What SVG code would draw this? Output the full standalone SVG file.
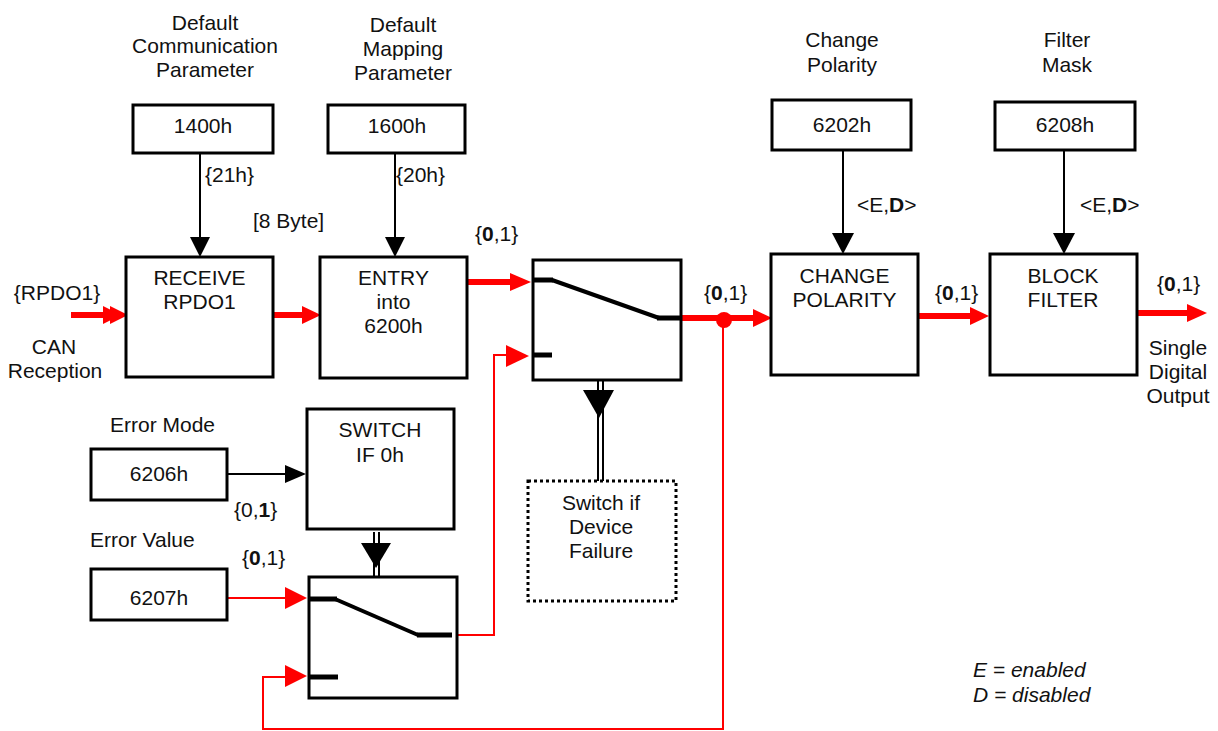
<svg xmlns="http://www.w3.org/2000/svg" width="1218" height="731" viewBox="0 0 1218 731">
<style>
text{font-family:"Liberation Sans",Arial,sans-serif;font-size:21px;fill:#111}
.c{text-anchor:middle}
.b{font-weight:bold}
.i{font-style:italic}
.box{fill:#fff;stroke:#000;stroke-width:3}
.dot{fill:#fff;stroke:#000;stroke-width:3;stroke-dasharray:3 3}
.bl{stroke:#000;stroke-width:2;fill:none}
.rt{stroke:#f00;stroke-width:6;fill:none}
.rn{stroke:#f00;stroke-width:2;fill:none}
.ct{stroke:#000;stroke-width:5;fill:none}
.dg{stroke:#000;stroke-width:4;fill:none}
.rh{fill:#f00}
.bh{fill:#000}
</style>
<rect width="1218" height="731" fill="#fff"/>

<g id="connectors">
  <!-- black arrows from parameter boxes -->
  <line class="bl" x1="200" y1="153" x2="200" y2="240"/>
  <polygon class="bh" points="190,237 210,237 200,257"/>
  <line class="bl" x1="395" y1="153" x2="395" y2="240"/>
  <polygon class="bh" points="385,237 405,237 395,257"/>
  <line class="bl" x1="843" y1="150" x2="843" y2="236"/>
  <polygon class="bh" points="832,233 854,233 843,254"/>
  <line class="bl" x1="1064" y1="150" x2="1064" y2="236"/>
  <polygon class="bh" points="1053,233 1075,233 1064,254"/>
  <line class="bl" x1="227" y1="474" x2="288" y2="474"/>
  <polygon class="bh" points="285,465 306,474 285,483"/>

  <!-- red thick flow -->
  <line class="rt" x1="71" y1="315" x2="106" y2="315"/>
  <polygon class="rh" points="103,306 121,315 103,324"/>
  <polygon class="rh" points="110,306 128,315 110,324"/>
  <line class="rt" x1="273" y1="315" x2="305" y2="315"/>
  <polygon class="rh" points="302,306 321,315 302,324"/>
  <line class="rt" x1="467" y1="282" x2="513" y2="282"/>
  <polygon class="rh" points="510,273 531,282 510,291"/>
  <line class="rt" x1="681" y1="318" x2="756" y2="318"/>
  <polygon class="rh" points="753,309 772,318 753,327"/>
  <circle cx="724" cy="320" r="8" fill="#f00"/>
  <line class="rt" x1="918" y1="316" x2="973" y2="316"/>
  <polygon class="rh" points="970,307 989,316 970,325"/>
  <line class="rt" x1="1137" y1="313" x2="1190" y2="313"/>
  <polygon class="rh" points="1187,304 1207,313 1187,322"/>

  <!-- red thin lines -->
  <polyline class="rn" points="227,598 288,598"/>
  <polygon class="rh" points="285,587 307,598 285,609"/>
  <polyline class="rn" points="723,320 723,729 263,729 263,677 288,677"/>
  <polygon class="rh" points="285,665 307,676 285,687"/>
  <polyline class="rn" points="453,635 494,635 494,355 508,355"/>
  <polygon class="rh" points="506,345 529,356 506,367"/>

  <!-- double control lines -->
  <line class="bl" x1="598" y1="297" x2="598" y2="481"/>
  <line class="bl" x1="603" y1="299" x2="603" y2="481"/>
  <polygon class="bh" points="583,390 614,390 599,418"/>
  <line class="bl" x1="374" y1="532" x2="374" y2="613"/>
  <line class="bl" x1="379" y1="532" x2="379" y2="613"/>
  <polygon class="bh" points="361,543 391,543 376,568"/>
</g>

<g id="labels">
  <text class="c" x="205" y="30">Default</text>
  <text class="c" x="205" y="53">Communication</text>
  <text class="c" x="205" y="77">Parameter</text>
  <text class="c" x="403" y="32">Default</text>
  <text class="c" x="403" y="56">Mapping</text>
  <text class="c" x="403" y="80">Parameter</text>
  <text x="205" y="182">{21h}</text>
  <text x="396" y="182">{20h}</text>
  <text x="253" y="228">[8 Byte]</text>
  <text class="c" x="57" y="300">{RPDO1}</text>
  <text class="c" x="54" y="354">CAN</text>
  <text class="c" x="55" y="378">Reception</text>
  <text x="475" y="241">{<tspan class="b">0</tspan>,1}</text>
  <text x="704" y="300">{<tspan class="b">0</tspan>,1}</text>
  <text x="935" y="300">{<tspan class="b">0</tspan>,1}</text>
  <text x="1157" y="291">{<tspan class="b">0</tspan>,1}</text>
  <text class="c" x="1178" y="355">Single</text>
  <text class="c" x="1178" y="379">Digital</text>
  <text class="c" x="1178" y="403">Output</text>
  <text class="c" x="842" y="47">Change</text>
  <text class="c" x="842" y="72">Polarity</text>
  <text class="c" x="1067" y="47">Filter</text>
  <text class="c" x="1067" y="72">Mask</text>
  <text x="857" y="212">&lt;E,<tspan class="b">D</tspan>&gt;</text>
  <text x="1080" y="212">&lt;E,<tspan class="b">D</tspan>&gt;</text>
  <text x="110" y="432">Error Mode</text>
  <text x="234" y="517">{0,<tspan class="b">1</tspan>}</text>
  <text x="90" y="547">Error Value</text>
  <text x="242" y="565">{<tspan class="b">0</tspan>,1}</text>
  <text class="i" x="973" y="677">E = enabled</text>
  <text class="i" x="973" y="702">D = disabled</text>
</g>

<g id="n1400h">
  <rect class="box" x="133" y="105" width="140" height="48"/>
  <text class="c" x="203" y="133">1400h</text>
</g>
<g id="n1600h">
  <rect class="box" x="328" y="105" width="137" height="48"/>
  <text class="c" x="397" y="133">1600h</text>
</g>
<g id="n6202h">
  <rect class="box" x="772" y="100" width="139" height="50"/>
  <text class="c" x="842" y="132">6202h</text>
</g>
<g id="n6208h">
  <rect class="box" x="995" y="102" width="140" height="48"/>
  <text class="c" x="1065" y="132">6208h</text>
</g>
<g id="receive">
  <rect class="box" x="126" y="257" width="147" height="120"/>
  <text class="c" x="199.5" y="285">RECEIVE</text>
  <text class="c" x="199.5" y="309">RPDO1</text>
</g>
<g id="entry">
  <rect class="box" x="320" y="257" width="147" height="121"/>
  <text class="c" x="393.5" y="285">ENTRY</text>
  <text class="c" x="393.5" y="309">into</text>
  <text class="c" x="393.5" y="333">6200h</text>
</g>
<g id="switch1">
  <rect class="box" x="533" y="260" width="148" height="120"/>
  <polyline class="ct" points="533,280 553,280"/>
  <line class="dg" x1="552" y1="280" x2="659" y2="318"/>
  <polyline class="ct" points="657,318 681,318"/>
  <polyline class="ct" points="533,355 552,355"/>
</g>
<g id="change-polarity">
  <rect class="box" x="771" y="254" width="147" height="121"/>
  <text class="c" x="844.5" y="283">CHANGE</text>
  <text class="c" x="844.5" y="307">POLARITY</text>
</g>
<g id="block-filter">
  <rect class="box" x="990" y="254" width="147" height="121"/>
  <text class="c" x="1063" y="283">BLOCK</text>
  <text class="c" x="1063" y="307">FILTER</text>
</g>
<g id="n6206h">
  <rect class="box" x="91" y="449" width="136" height="51"/>
  <text class="c" x="159" y="481">6206h</text>
</g>
<g id="switch-if-0h">
  <rect class="box" x="307" y="409" width="147" height="120"/>
  <text class="c" x="380" y="437">SWITCH</text>
  <text class="c" x="380" y="462">IF 0h</text>
</g>
<g id="device-failure">
  <rect class="dot" x="528" y="481" width="148" height="120"/>
  <text class="c" x="601" y="510">Switch if</text>
  <text class="c" x="601" y="534">Device</text>
  <text class="c" x="601" y="558">Failure</text>
</g>
<g id="n6207h">
  <rect class="box" x="91" y="569" width="136" height="51"/>
  <text class="c" x="159" y="605">6207h</text>
</g>
<g id="switch2">
  <rect class="box" x="309" y="577" width="148" height="121"/>
  <polyline class="ct" points="309,599 337,599"/>
  <line class="dg" x1="335" y1="599" x2="418" y2="635"/>
  <polyline class="ct" points="417,635 452,635"/>
  <polyline class="ct" points="309,677 338,677"/>
</g>
</svg>
